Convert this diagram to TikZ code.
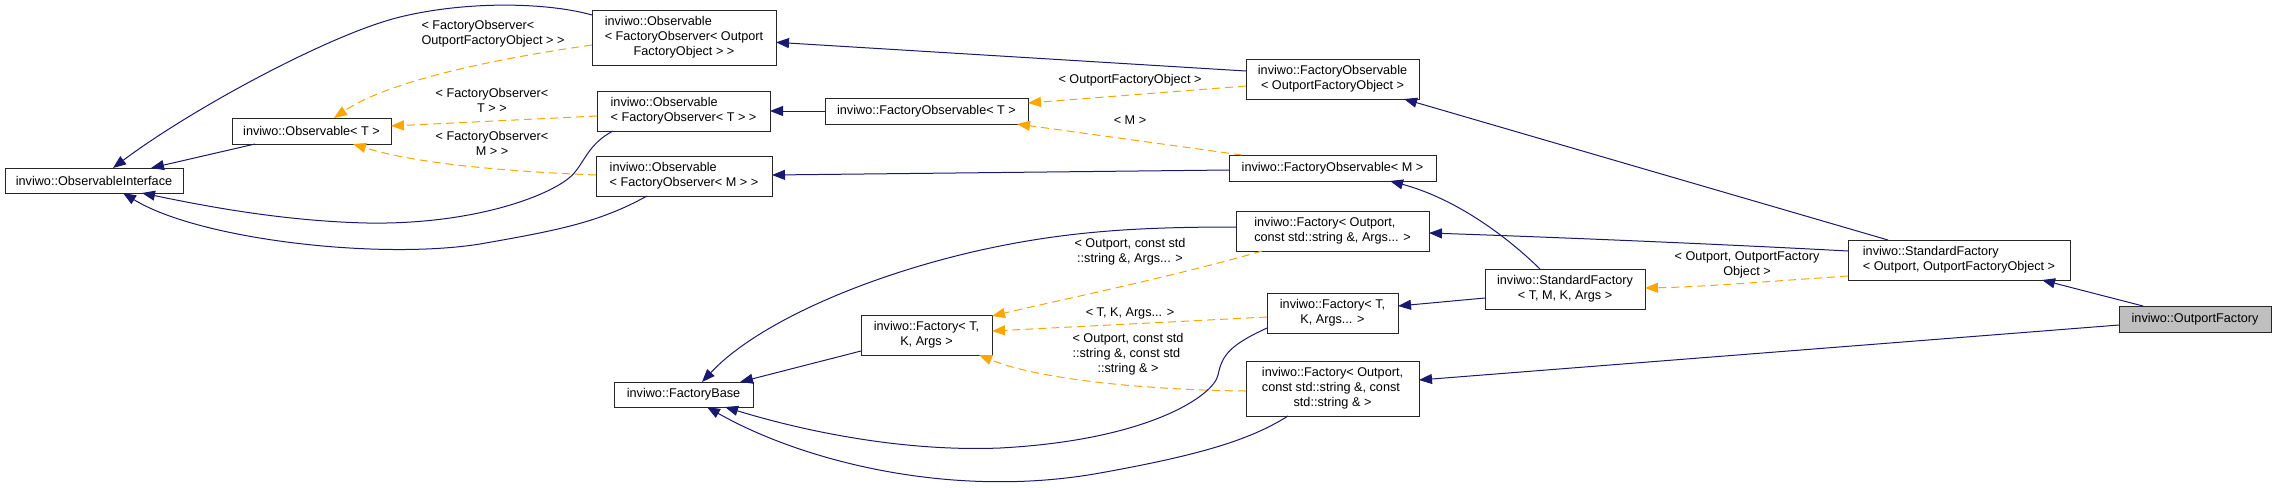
\documentclass[tikz,border=0pt]{standalone}
\usepackage{fontspec}
\setmainfont{Liberation Sans}
\usetikzlibrary{arrows.meta,calc}
\definecolor{navy}{HTML}{191970}
\definecolor{tplorange}{HTML}{FFA500}
\definecolor{boxgray}{HTML}{BFBFBF}
\newcommand{\dlbl}[2]{\begin{tabular}{@{}l@{}}#1\\\multicolumn{1}{@{}c@{}}{#2}\end{tabular}}
\begin{document}
\begin{tikzpicture}[x=0.75pt,y=-0.75pt,
  box/.style={draw=black!85, line width=0.75pt, fill=white, inner sep=0pt, outer sep=0pt,
              font=\fontsize{9.5}{11.25}\selectfont},
  lbl/.style={inner sep=0pt, font=\fontsize{9.5}{11.25}\selectfont},
  inh/.style={draw=navy, line width=0.75pt, -{Triangle[length=9.75pt,width=7.5pt]}},
  tpl/.style={draw=tplorange, line width=0.75pt, dash pattern=on 6pt off 3.75pt,
              -{Triangle[length=9.75pt,width=7.5pt]}}]
\useasboundingbox (0,0) rectangle (2276,487);

% nodes
\node[box, minimum width=133.5pt, minimum height=18.75pt] (OI) at (94,180.5) {inviwo::ObservableInterface};
\node[box, minimum width=119.25pt, minimum height=19.5pt] (ObsT) at (311.5,131) {inviwo::Observable< T >};
\node[box, minimum width=138pt, minimum height=41.25pt] (ObsFOO) at (684,37.5) {\dlbl{inviwo::Observable\\< FactoryObserver< Outport}{FactoryObject > >}};
\node[box, minimum width=129.75pt, minimum height=30pt] (ObsFOT) at (683.5,111) {\dlbl{inviwo::Observable}{< FactoryObserver< T > >}};
\node[box, minimum width=132pt, minimum height=30pt] (ObsFOM) at (684,176) {\dlbl{inviwo::Observable}{< FactoryObserver< M > >}};
\node[box, minimum width=152.25pt, minimum height=19.5pt] (FOT) at (926.5,111) {inviwo::FactoryObservable< T >};
\node[box, minimum width=104.25pt, minimum height=18.75pt] (FB) at (683.5,394.5) {inviwo::FactoryBase};
\node[box, minimum width=98.25pt, minimum height=30pt] (FTKA) at (926.5,335) {\dlbl{inviwo::Factory< T,}{K, Args >}};
\node[box, minimum width=129.75pt, minimum height=30pt] (FOO) at (1332.5,79) {\dlbl{inviwo::FactoryObservable}{< OutportFactoryObject >}};
\node[box, minimum width=155.25pt, minimum height=19.5pt] (FOM) at (1332.5,168) {inviwo::FactoryObservable< M >};
\node[box, minimum width=144.75pt, minimum height=30pt] (FOsA) at (1332.5,231) {\dlbl{inviwo::Factory< Outport,}{const std::string \&, Args... >}};
\node[box, minimum width=98.25pt, minimum height=30pt] (FTKAd) at (1332.5,313) {\dlbl{inviwo::Factory< T,}{K, Args... >}};
\node[box, minimum width=129.75pt, minimum height=41.25pt] (FOss) at (1332.5,388.5) {\dlbl{inviwo::Factory< Outport,\\const std::string \&, const}{std::string \& >}};
\node[box, minimum width=120pt, minimum height=30pt] (SFT) at (1565,289) {\dlbl{inviwo::StandardFactory}{< T, M, K, Args >}};
\node[box, minimum width=166.5pt, minimum height=30pt] (SFO) at (1959,260) {\dlbl{inviwo::StandardFactory}{< Outport, OutportFactoryObject >}};
\node[box, fill=boxgray, minimum width=114pt, minimum height=19.5pt] (OF) at (2195,319) {inviwo::OutportFactory};

% edge labels
\node[lbl] (L1) at (493,34) {\dlbl{< FactoryObserver<}{OutportFactoryObject > >}};
\node[lbl] (L2) at (492,101.5) {\dlbl{< FactoryObserver<}{T > >}};
\node[lbl] (L3) at (492,144.5) {\dlbl{< FactoryObserver<}{M > >}};
\node[lbl] (L4) at (1130,80) {< OutportFactoryObject >};
\node[lbl] (L5) at (1130,120) {< M >};
\node[lbl] (L6) at (1130,252) {\dlbl{< Outport, const std}{::string \&, Args... >}};
\node[lbl] (L7) at (1130,313) {< T, K, Args... >};
\node[lbl] (L8) at (1128,354.5) {\dlbl{< Outport, const std\\::string \&, const std}{::string \& >}};
\node[lbl] (L9) at (1747,264.5) {\dlbl{< Outport, OutportFactory}{Object >}};

% inheritance edges to ObservableInterface
\draw[inh] ($(ObsT.south west)+(23,0)$) -- ($(OI.north west)+(146,0)$);
\draw[inh] ($(ObsFOO.north west)+(0,5)$) .. controls (550,3) and (470,0) .. (400,17)
  .. controls (330,34) and (190,110) .. ($(OI.north west)+(108,0)$);
\draw[inh] ($(ObsFOT.south west)+(16,0)$) .. controls (590,143) and (585,160) .. (575,172)
  .. controls (560,192) and (480,225) .. (367,223)
  .. controls (280,221) and (200,205) .. ($(OI.south west)+(137,0)$);
\draw[inh] ($(ObsFOM.south west)+(51,0)$) .. controls (600,222) and (560,230) .. (480,244)
  .. controls (380,260) and (200,240) .. ($(OI.south west)+(118,0)$);

% template edges to Observable<T>
\draw[tpl] ($(ObsFOO.west)+(0,7.5)$) .. controls (500,58) and (390,80) .. ($(ObsT.north west)+(102,0)$);
\draw[tpl] ($(ObsFOT.west)+(0,5)$) -- ($(ObsT.east)+(0,-5)$);
\draw[tpl] ($(ObsFOM.west)+(0,-1)$) .. controls (520,172) and (420,165) .. ($(ObsT.south west)+(121,0)$);

% middle inheritance
\draw[inh] ($(FOO.west)+(0,-8)$) -- ($(ObsFOO.east)+(0,4.8)$);
\draw[inh] (FOT.west) -- (ObsFOT.east);
\draw[inh] ($(FOM.west)+(0,2)$) -- ($(ObsFOM.east)+(0,-1)$);
\draw[tpl] ($(FOO.west)+(0,7)$) -- ($(FOT.east)+(0,-8)$);
\draw[tpl] ($(FOM.north west)+(13,0)$) -- ($(FOT.south east)+(-11,0)$);

% right part
\draw[inh] ($(SFO.north west)+(40,0)$) -- ($(FOO.south east)+(-15,0)$);
\draw[inh] ($(SFT.north west)+(55,0)$) .. controls (1500,230) and (1450,197) .. ($(FOM.south east)+(-46,0)$);
\draw[inh] ($(SFO.west)+(0,-9)$) .. controls (1700,243) and (1520,236) .. ($(FOsA.east)+(0,2)$);
\draw[inh] ($(SFT.west)+(0,9)$) -- ($(FTKAd.east)+(0,-7)$);
\draw[tpl] ($(SFO.west)+(0,16)$) .. controls (1760,282) and (1700,287) .. ($(SFT.east)+(0,-1)$);
\draw[inh] ($(OF.north west)+(24,0)$) -- ($(SFO.south east)+(-28,0)$);
\draw[inh] ($(OF.west)+(0,6)$) -- ($(FOss.east)+(0,-8.5)$);

% template edges to Factory<T,K,Args>
\draw[tpl] ($(FOsA.south west)+(26,0)$) .. controls (1180,275) and (1060,300) .. ($(FTKA.north east)+(0,1)$);
\draw[tpl] ($(FTKAd.west)+(0,4)$) -- ($(FTKA.east)+(0,-4)$);
\draw[tpl] ($(FOss.west)+(0,2.5)$) .. controls (1150,390) and (1040,380) .. ($(FTKA.south east)+(-13,0)$);

% inheritance edges to FactoryBase
\draw[inh] ($(FTKA.south west)+(0,-4)$) -- ($(FB.north east)+(-13,0)$);
\draw[inh] ($(FOsA.west)+(0,-4)$) .. controls (1150,227) and (1080,230) .. (1000,246)
  .. controls (880,270) and (760,320) .. ($(FB.north west)+(88,0)$);
\draw[inh] ($(FTKAd.west)+(0,15)$) .. controls (1230,345) and (1222,355) .. (1218,375)
  .. controls (1214,395) and (1150,440) .. (1000,448)
  .. controls (900,452) and (800,430) .. ($(FB.south west)+(111,0)$);
\draw[inh] ($(FOss.south west)+(42,0)$) .. controls (1250,440) and (1200,455) .. (1100,473)
  .. controls (950,500) and (800,460) .. ($(FB.south west)+(93,0)$);
\end{tikzpicture}
\end{document}
